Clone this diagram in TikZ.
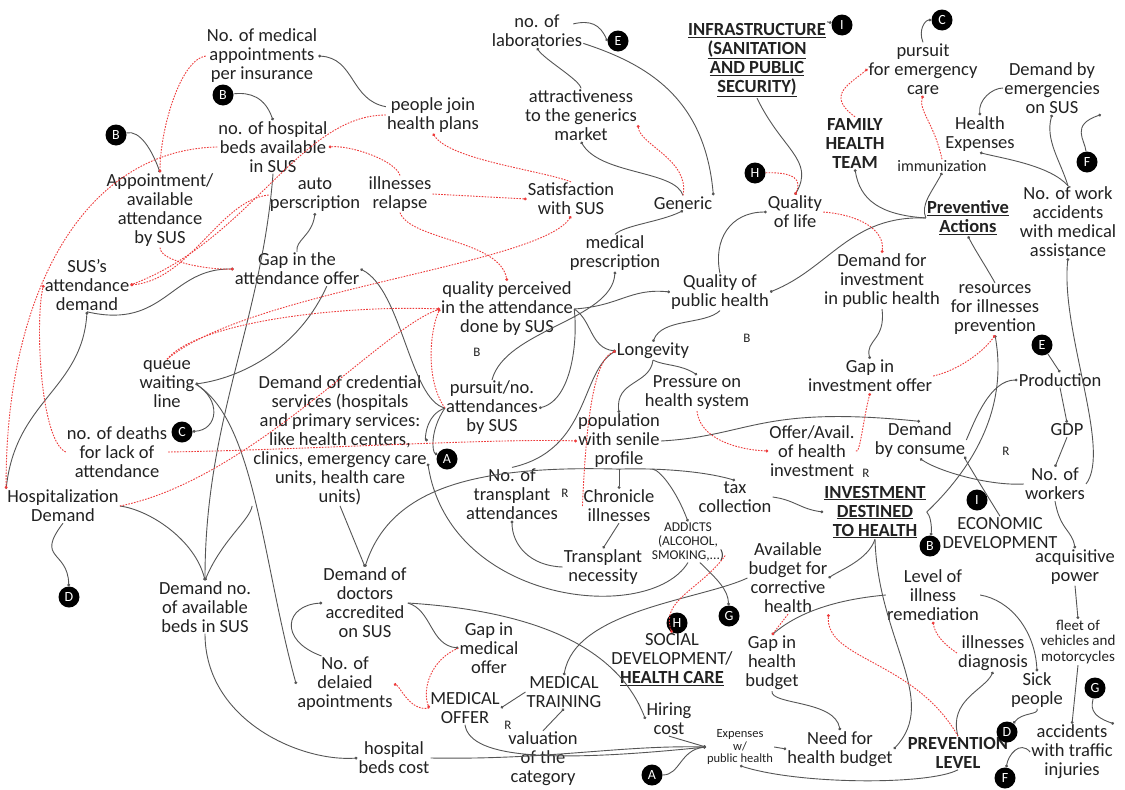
\documentclass[tikz,border=0pt]{standalone}
\usepackage{fontspec}
\setmainfont{Carlito}
\usetikzlibrary{arrows.meta}
\definecolor{ink}{HTML}{222222}
\definecolor{wire}{HTML}{555555}
\definecolor{redline}{HTML}{EE3B3B}
\newcommand{\ulbf}[1]{\underline{\textbf{#1}}}

\tikzset{
  var/.style={align=center, inner sep=1pt, text=ink, font=\fontsize{18.5}{19}\selectfont},
  smallvar/.style={align=center, inner sep=1pt, text=ink, font=\fontsize{13.5}{14}\selectfont},
  tag/.style={circle, fill=black, text=white, inner sep=0pt, minimum size=21pt, font=\fontsize{14}{14}\selectfont},
  loopname/.style={text=ink, inner sep=0pt, font=\fontsize{13}{13}\selectfont},
  link/.style={draw=wire, line width=0.9pt, -{Circle[length=2.8pt]}},
  dlink/.style={draw=redline, line width=0.9pt, dash pattern=on 1.6pt off 1.3pt, -{Circle[length=2.8pt]}}
}

\begin{document}
\begin{tikzpicture}[x=1pt, y=-1pt]
  \fill[white] (0,0) rectangle (1125,790);
  % top left
  \node[var] (nmed) at (262,56) {No. of medical\\appointments\\per insurance};
  \node[var] (pjoin) at (433,115) {people join\\health plans};
  \node[var] (beds) at (273,147) {no. of hospital\\beds available\\in SUS};
  \node[var] (appt) at (160,210) {Appointment/\\available\\attendance\\by SUS};
  \node[var] (autop) at (315,195) {auto\\perscription};
  \node[var] (relapse) at (400,194) {illnesses\\relapse};
  \node[var] (satis) at (571,199) {Satisfaction\\with SUS};
  \node[var] (attract) at (581,115) {attractiveness\\to the generics\\market};
  \node[var] (labs) at (537,31) {no. of\\laboratories};
  \node[var] (generic) at (683,203) {Generic};
  \node[var] (mpresc) at (615,253) {medical\\prescription};
  % top right
  \node[var] (infra) at (757,60) {\ulbf{INFRASTRUCTURE}\\\ulbf{(SANITATION}\\\ulbf{AND PUBLIC}\\\ulbf{SECURITY)}};
  \node[var] (pursuit) at (923,69) {pursuit\\for emergency\\care};
  \node[var] (demem) at (1052,88) {Demand by\\emergencies\\on SUS};
  \node[var] (hexp) at (980,134) {Health\\Expenses};
  \node[var] (family) at (855,143) {\textbf{FAMILY}\\\textbf{HEALTH}\\\textbf{TEAM}};
  \node[var, font=\fontsize{16}{16}\selectfont] (immun) at (942,166) {immunization};
  \node[var] (qlife) at (795,212) {Quality\\of life};
  \node[var] (prevact) at (968,218) {\ulbf{Preventive}\\\ulbf{Actions}};
  \node[var] (workacc) at (1068,222) {No. of work\\accidents\\with medical\\assistance};
  \node[var] (deminv) at (882,281) {Demand for\\investment\\in public health};
  \node[var] (resources) at (995,309) {resources\\for illnesses\\prevention};
  % middle
  \node[var] (qpub) at (720,292) {Quality of\\public health};
  \node[var] (qperc) at (507,309) {quality perceived\\in the attendance\\done by SUS};
  \node[var] (susdem) at (87,285) {SUS’s\\attendance\\demand};
  \node[var] (gapatt) at (297,269) {Gap in the\\attendance offer};
  \node[var] (longev) at (653,351) {Longevity};
  \node[var] (gapinv) at (870,376) {Gap in\\investment offer};
  \node[var] (queue) at (167,384) {queue\\waiting\\line};
  \node[var] (credential) at (340,440) {Demand of credential\\services (hospitals\\and primary services:\\like health centers,\\clinics, emergency care\\units, health care\\units)};
  \node[var] (pursno) at (492,408) {pursuit/no.\\attendances\\by SUS};
  \node[var] (pressure) at (697,393) {Pressure on\\health system};
  \node[var] (prod) at (1060,380) {Production};
  \node[var] (deaths) at (117,452) {no. of deaths\\for lack of\\attendance};
  \node[var] (popul) at (619,441) {population\\with senile\\profile};
  \node[var] (offer) at (812,451) {Offer/Avail.\\of health\\investment};
  \node[var] (demcons) at (920,440) {Demand\\by consume};
  \node[var] (gdp) at (1067,430) {GDP};
  \node[var] (workers) at (1055,484) {No. of\\workers};
  \node[var] (hosp) at (63,506) {Hospitalization\\Demand};
  \node[var] (ntrans) at (512,494) {No. of\\transplant\\attendances};
  \node[var] (chronic) at (619,506) {Chronicle\\illnesses};
  \node[var] (tax) at (735,497) {tax\\collection};
  \node[var] (invest) at (875,512) {\ulbf{INVESTMENT}\\\ulbf{DESTINED}\\\ulbf{TO HEALTH}};
  \node[var] (econ) at (1000,533) {ECONOMIC\\DEVELOPMENT};
  % bottom
  \node[smallvar] (addicts) at (688,542) {ADDICTS\\(ALCOHOL,\\SMOKING,...)};
  \node[var] (transnec) at (603,567) {Transplant\\necessity};
  \node[var] (avail) at (788,578) {Available\\budget for\\corrective\\health};
  \node[var] (level) at (933,595) {Level of\\illness\\remediation};
  \node[var] (acq) at (1075,567) {acquisitive\\power};
  \node[var] (demno) at (205,607) {Demand no.\\of available\\beds in SUS};
  \node[var] (demdoc) at (365,603) {Demand of\\doctors\\accredited\\on SUS};
  \node[var, font=\fontsize{15}{15.5}\selectfont] (fleet) at (1078,642) {fleet of\\vehicles and\\motorcycles};
  \node[var] (gapmed) at (489,648) {Gap in\\medical\\offer};
  \node[var] (social) at (672,660) {SOCIAL\\DEVELOPMENT/\\\ulbf{HEALTH CARE}};
  \node[var] (diag) at (993,653) {illnesses\\diagnosis};
  \node[var] (gaphb) at (772,663) {Gap in\\health\\budget};
  \node[var] (sick) at (1037,690) {Sick\\people};
  \node[var] (delay) at (345,684) {No. of\\delaied\\apointments};
  \node[var] (medoff) at (465,708) {MEDICAL\\OFFER};
  \node[var] (medtrain) at (564,692) {MEDICAL\\TRAINING};
  \node[var] (hiring) at (669,719) {Hiring\\cost};
  \node[var, font=\fontsize{12.5}{12.5}\selectfont] (expw) at (740,747) {Expenses\\w/\\public health};
  \node[var] (needb) at (840,749) {Need for\\health budget};
  \node[var] (prevlev) at (958,753) {\textbf{PREVENTION}\\\textbf{LEVEL}};
  \node[var] (accid) at (1072,752) {accidents\\with traffic\\injuries};
  \node[var] (hbcost) at (394,758) {hospital\\beds cost};
  \node[var] (valcat) at (543,759) {valuation\\of the\\category};
  % loop names
  \node[loopname] (loopB1) at (477,352) {B};
  \node[loopname] (loopB2) at (747,338) {B};
  \node[loopname] (loopR1) at (866,473) {R};
  \node[loopname] (loopR2) at (1006,451) {R};
  \node[loopname] (loopR3) at (565,493) {R};
  \node[loopname] (loopR4) at (508,725) {R};
  % loop markers
  \node[tag] (cB1) at (223,95) {B};
  \node[tag] (cB2) at (116,135) {B};
  \node[tag] (cE1) at (618,41) {E};
  \node[tag] (cI1) at (842,25) {I};
  \node[tag] (cC1) at (942,20) {C};
  \node[tag] (cF1) at (1087,162) {F};
  \node[tag] (cH1) at (755,173) {H};
  \node[tag] (cE2) at (1042,345) {E};
  \node[tag] (cC2) at (182,432) {C};
  \node[tag] (cA1) at (447,459) {A};
  \node[tag] (cI2) at (977,500) {I};
  \node[tag] (cB3) at (930,546) {B};
  \node[tag] (cG1) at (729,616) {G};
  \node[tag] (cD1) at (69,597) {D};
  \node[tag] (cH2) at (677,623) {H};
  \node[tag] (cG2) at (1095,688) {G};
  \node[tag] (cD2) at (1007,732) {D};
  \node[tag] (cF2) at (1005,778) {F};
  \node[tag] (cA2) at (652,775) {A};

  % black links
  \draw[link] (pjoin.170) .. controls (350,100) and (355,58) .. (nmed.east);
  \draw[link] (attract.north) .. controls (580,80) and (545,60) .. (labs.south);
  \draw[link] (labs.-15) .. controls (650,65) and (705,100) .. (generic.north east);
  \draw[link] (generic.north) .. controls (675,170) and (600,175) .. (attract.south);
  \draw[link] (mpresc.north) .. controls (625,225) and (660,222) .. (generic.south);
  \draw[link] (beds.south) .. controls (262,320) and (205,420) .. (demno.north);
  \draw[link] (gapatt.north) .. controls (295,240) and (312,236) .. (autop.south);
  \draw[link] (susdem.south) .. controls (165,330) and (170,268) .. (gapatt.west);
  \draw[link] (hosp.north west) .. controls (15,400) and (82,390) .. (susdem.south);
  \draw[link] (gapatt.-30) .. controls (298,350) and (240,378) .. (queue.east);
  \draw[link] (queue.east) .. controls (222,400) and (218,430) .. (cC2);
  \draw[link] (queue.east) .. controls (255,420) and (262,560) .. (delay.west);
  \draw[link] (pursno.west) .. controls (410,400) and (402,290) .. (gapatt.east);
  \draw[link] (pursno.west) .. controls (425,415) and (425,440) .. (credential.east);
  \draw[link] (pursno.west) .. controls (430,430) and (432,452) .. (cA1);
  \draw[link] (pursno.north) .. controls (505,330) and (612,320) .. (mpresc.south);
  \draw[link] (qperc.east) .. controls (578,340) and (572,400) .. (pursno.east);
  \draw[link] (qperc.east) .. controls (620,306) and (630,288) .. (qpub.west);
  \draw[link] (qperc.east) .. controls (592,320) and (590,348) .. (longev.west);
  \draw[link] (qpub.south) .. controls (705,325) and (662,318) .. (longev.north);
  \draw[link] (qpub.north) .. controls (713,240) and (730,212) .. (qlife.west);
  \draw[link] (longev.south) .. controls (665,366) and (680,364) .. (pressure.north);
  \draw[link] (longev.south) .. controls (650,385) and (615,380) .. (popul.north);
  \draw[link] (ntrans.north) .. controls (590,450) and (580,372) .. (longev.west);
  \draw[link] (popul.south) -- (chronic.north);
  \draw[link] (popul.south) .. controls (650,468) and (700,470) .. (tax.north);
  \draw[link] (popul.south) .. controls (470,465) and (390,490) .. (demdoc.north);
  \draw[link] (popul.-40) .. controls (660,470) and (676,490) .. (addicts.north);
  \draw[link] (popul.east) .. controls (750,436) and (760,405) .. (demcons.north);
  \draw[link] (chronic.south) -- (transnec.north);
  \draw[link] (transnec.west) .. controls (530,566) and (512,545) .. (ntrans.south);
  \draw[link] (addicts.south) .. controls (650,625) and (450,605) .. (credential.-15);
  \draw[link] (addicts.-60) .. controls (718,580) and (728,590) .. (cG1);
  \draw[link] (credential.south) -- (demdoc.north);
  \draw[link] (credential.south west) .. controls (250,520) and (222,540) .. (demno.north);
  \draw[link] (hosp.east) .. controls (150,510) and (195,540) .. (demno.north);
  \draw[link] (hosp.south) .. controls (35,560) and (68,550) .. (cD1);
  \draw[link] (demno.south) .. controls (205,720) and (300,762) .. (hbcost.west);
  \draw[link] (delay.130) .. controls (278,640) and (285,605) .. (demdoc.west);
  \draw[link] (demdoc.east) .. controls (432,610) and (430,645) .. (gapmed.west);
  \draw[link] (demdoc.east) .. controls (520,610) and (615,640) .. (hiring.west);
  \draw[link] (medtrain.west) -- (medoff.east);
  \draw[link] (valcat.north) -- (medtrain.south);
  \draw[link] (avail.west) .. controls (700,600) and (575,610) .. (medtrain.north);
  \draw[link] (hbcost.east) .. controls (550,760) and (620,745) .. (expw.west);
  \draw[link] (medoff.south) .. controls (470,760) and (560,762) .. (expw.west);
  \draw[link] (hiring.south) -- (expw.west);
  \draw[link] (cA2) .. controls (680,775) and (680,750) .. (expw.west);
  \draw[link] (expw.east) -- (needb.west);
  \draw[link] (gaphb.south) .. controls (770,705) and (835,700) .. (needb.north);
  \draw[link] (invest.south) .. controls (868,560) and (840,570) .. (avail.east);
  \draw[link] (invest.south) .. controls (878,640) and (940,700) .. (needb.east);
  \draw[link] (invest.east) .. controls (930,515) and (932,525) .. (cB3);
  \draw[link] (invest.east) .. controls (960,480) and (1010,420) .. (resources.south);
  \draw[link] (tax.east) .. controls (795,500) and (800,509) .. (invest.west);
  \draw[link] (level.east) .. controls (1010,600) and (1035,630) .. (sick.north);
  \draw[link] (level.west) .. controls (830,600) and (795,615) .. (gaphb.north);
  \draw[link] (prevlev.north) .. controls (948,700) and (985,690) .. (diag.south);
  \draw[link] (prevlev.south) .. controls (930,785) and (800,785) .. (expw.south);
  \draw[link] (sick.south) .. controls (1040,715) and (1022,712) .. (cD2);
  \draw[link] (acq.south) -- (fleet.north);
  \draw[link] (fleet.south) -- (accid.north);
  \draw[link] (cG2) .. controls (1092,705) and (1088,715) .. (accid.north east);
  \draw[link] (accid.west) .. controls (1020,740) and (1008,755) .. (cF2);
  \draw[link] (workers.south) .. controls (1060,530) and (1072,530) .. (acq.north);
  \draw[link] (workers.east) .. controls (1112,450) and (1060,330) .. (workacc.south);
  \draw[link] (workers.west) .. controls (990,486) and (940,472) .. (demcons.south);
  \draw[link] (gdp.south) -- (workers.north);
  \draw[link] (prod.south) -- (gdp.north);
  \draw[link] (cE2) -- (prod.north);
  \draw[link] (demcons.east) .. controls (975,420) and (990,380) .. (prod.west);
  \draw[link] (econ.north) .. controls (990,500) and (962,455) .. (demcons.south east);
  \draw[link] (deminv.south) .. controls (886,340) and (865,340) .. (gapinv.north);
  \draw[link] (prevact.west) .. controls (850,215) and (830,268) .. (qpub.east);
  \draw[link] (prevact.west) .. controls (880,215) and (860,200) .. (family.south);
  \draw[link] (prevact.west) .. controls (920,205) and (932,192) .. (immun.south);
  \draw[link] (resources.north) .. controls (985,265) and (975,250) .. (prevact.south);
  \draw[link] (workacc.north) .. controls (1050,165) and (1000,158) .. (hexp.south);
  \draw[link] (workacc.north) .. controls (1060,160) and (1045,140) .. (demem.south);
  \draw[link] (cF1) .. controls (1085,140) and (1070,125) .. (demem.south east);
  \draw[link] (demem.west) .. controls (992,88) and (978,100) .. (hexp.north);
  \draw[link] (pursuit.north) .. controls (918,30) and (925,20) .. (cC1);
  \draw[link] (infra.north east) -- (cI1);
  \draw[link] (infra.south) .. controls (782,150) and (815,160) .. (qlife.north);
  \draw[link] ([xshift=-10pt,yshift=-10pt]labs.north east) .. controls (590,20) and (600,24) .. (cE1.west);
  \draw[link] (cB1) .. controls (250,92) and (265,97) .. (beds.north);
  \draw[link] (cB2) .. controls (140,130) and (152,150) .. (appt.north);

  % red links
  \draw[dlink] (generic.north) .. controls (690,160) and (640,145) .. (attract.-10);
  \draw[dlink] (family.north) .. controls (825,95) and (850,84) .. (pursuit.west);
  \draw[dlink] (immun.north) .. controls (935,125) and (918,110) .. (pursuit.south);
  \draw[dlink] (cH1) .. controls (795,172) and (802,180) .. (qlife.north);
  \draw[dlink] (qlife.east) .. controls (860,215) and (885,230) .. (deminv.north);
  \draw[dlink] (gapinv.east) .. controls (960,370) and (985,350) .. (resources.south);
  \draw[dlink] (offer.east) .. controls (860,455) and (863,420) .. (gapinv.south);
  \draw[dlink] (pressure.south) .. controls (700,440) and (740,450) .. (offer.west);
  \draw[dlink] (chronic.west) .. controls (585,450) and (590,360) .. (longev.west);
  \draw[dlink] (pursno.west) .. controls (425,380) and (430,330) .. (qperc.west);
  \draw[dlink] (deaths.east) .. controls (300,450) and (500,438) .. (popul.west);
  \draw[dlink] (deaths.west) .. controls (40,440) and (35,320) .. (susdem.west);
  \draw[dlink] (hosp.east) .. controls (250,480) and (380,330) .. (qperc.west);
  \draw[dlink] (queue.north) .. controls (200,320) and (350,305) .. (qperc.west);
  \draw[dlink] (queue.north) .. controls (250,290) and (540,265) .. (satis.south);
  \draw[dlink] (relapse.south) .. controls (410,240) and (500,240) .. (qperc.north);
  \draw[dlink] (relapse.east) -- (satis.west);
  \draw[dlink] (satis.north) .. controls (540,170) and (450,160) .. (pjoin.south);
  \draw[dlink] (relapse.north) .. controls (395,160) and (350,145) .. (beds.east);
  \draw[dlink] (beds.west) .. controls (80,150) and (5,300) .. (hosp.north west);
  \draw[dlink] (nmed.west) .. controls (180,60) and (160,130) .. (appt.north);
  \draw[dlink] (appt.south) .. controls (160,262) and (210,270) .. (gapatt.west);
  \draw[dlink] (autop.west) .. controls (220,200) and (190,280) .. (susdem.east);
  \draw[dlink] (pjoin.west) .. controls (300,115) and (250,240) .. (susdem.east);
  \draw[dlink] (medoff.west) .. controls (410,712) and (400,686) .. (delay.east);
  \draw[dlink] (gapmed.west) .. controls (430,660) and (422,690) .. (medoff.west);
  \draw[dlink] (addicts.-20) .. controls (700,590) and (660,600) .. (social.north);
  \draw[dlink] (prevlev.north) .. controls (915,660) and (825,660) .. (avail.south east);
  \draw[dlink] (avail.south) -- (gaphb.north);
  \draw[dlink] (diag.west) .. controls (945,645) and (935,635) .. (level.south);
\end{tikzpicture}
\end{document}
